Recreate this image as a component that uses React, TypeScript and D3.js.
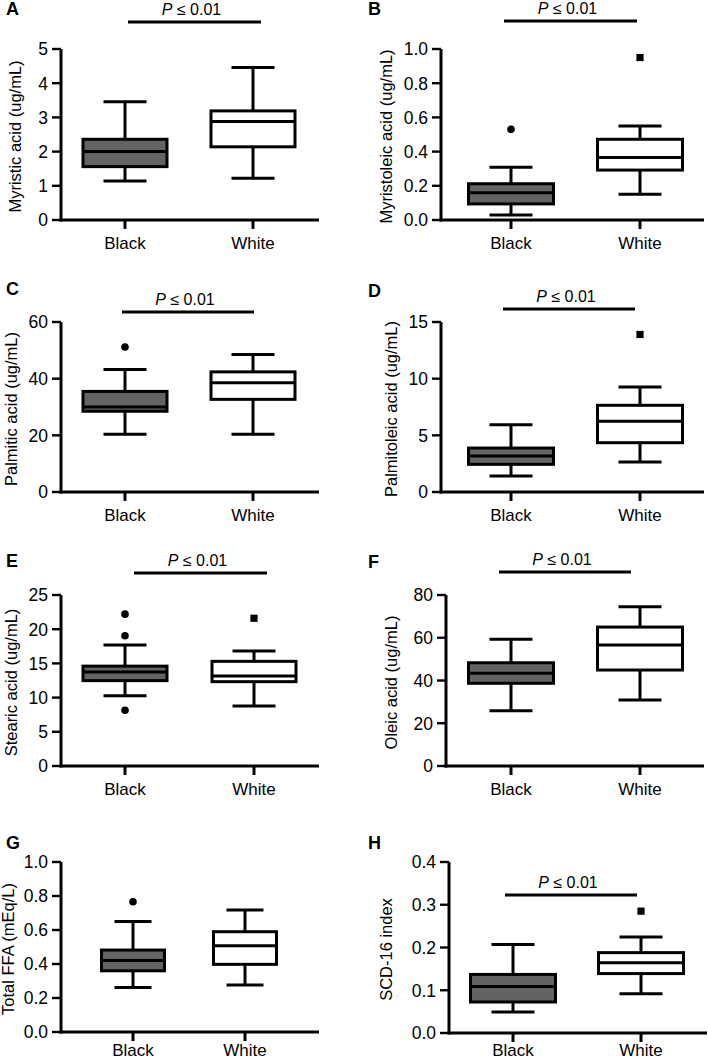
import React from "react";
import * as d3 from "d3";

// ---------- data (box stats: [whiskerLow, Q1, median, Q3, whiskerHigh]) ----------
const categories = ["Black", "White"];

const myristicBlack = [1.14, 1.56, 2.0, 2.36, 3.46];
const myristicWhite = [1.22, 2.14, 2.88, 3.19, 4.46];
const myristicOutBlack: number[] = [];
const myristicOutWhite: number[] = [];

const myristoleicBlack = [0.029, 0.094, 0.16, 0.212, 0.308];
const myristoleicWhite = [0.15, 0.292, 0.366, 0.472, 0.55];
const myristoleicOutBlack = [0.53];
const myristoleicOutWhite = [0.95];

const palmiticBlack = [20.4, 28.5, 30.0, 35.5, 43.2];
const palmiticWhite = [20.4, 32.7, 38.6, 42.4, 48.5];
const palmiticOutBlack = [51.2];
const palmiticOutWhite: number[] = [];

const palmitoleicBlack = [1.41, 2.44, 3.18, 3.88, 5.94];
const palmitoleicWhite = [2.65, 4.35, 6.24, 7.65, 9.26];
const palmitoleicOutBlack: number[] = [];
const palmitoleicOutWhite = [13.9];

const stearicBlack = [10.28, 12.48, 13.74, 14.6, 17.7];
const stearicWhite = [8.77, 12.33, 13.16, 15.3, 16.8];
const stearicOutBlack = [22.2, 19.05, 8.14];
const stearicOutWhite = [21.6];

const oleicBlack = [25.9, 38.7, 43.4, 48.3, 59.3];
const oleicWhite = [30.9, 44.9, 56.6, 65.0, 74.5];
const oleicOutBlack: number[] = [];
const oleicOutWhite: number[] = [];

const ffaBlack = [0.262, 0.36, 0.42, 0.482, 0.65];
const ffaWhite = [0.277, 0.398, 0.508, 0.59, 0.717];
const ffaOutBlack = [0.766];
const ffaOutWhite: number[] = [];

const scdBlack = [0.049, 0.0725, 0.109, 0.137, 0.207];
const scdWhite = [0.092, 0.139, 0.1645, 0.188, 0.2246];
const scdOutBlack: number[] = [];
const scdOutWhite = [0.285];

const ticksA = [0, 1, 2, 3, 4, 5];
const ticksB = [0, 0.2, 0.4, 0.6, 0.8, 1.0];
const ticksC = [0, 20, 40, 60];
const ticksD = [0, 5, 10, 15];
const ticksE = [0, 5, 10, 15, 20, 25];
const ticksF = [0, 20, 40, 60, 80];
const ticksG = [0, 0.2, 0.4, 0.6, 0.8, 1.0];
const ticksH = [0, 0.1, 0.2, 0.3, 0.4];

const sigLabel = "≤ 0.01";

// ---------- layout ----------
type Panel = {
  letter: string;
  title: string;
  black: number[];
  white: number[];
  outBlack: number[];
  outWhite: number[];
  ticks: number[];
  fmt: string;
  axisX: number;
  right: number;
  yTop: number;
  yBot: number;
  cats: [number, number];
  boxW: number;
  capW: number;
  letterX: number;
  letterY: number;
  titleX: number;
  catDy: number;
  sig: null | { x1: number; x2: number; y: number };
};

const FONT = "'Liberation Sans', Arial, Helvetica, sans-serif";

const panels: Panel[] = [
  {
    letter: "A", title: "Myristic acid (ug/mL)",
    black: myristicBlack, white: myristicWhite, outBlack: myristicOutBlack, outWhite: myristicOutWhite,
    ticks: ticksA, fmt: "d",
    axisX: 61, right: 319, yTop: 49, yBot: 220, cats: [125, 253], boxW: 84, capW: 43,
    letterX: 6, letterY: 15, titleX: 21, catDy: 29, sig: { x1: 128, x2: 261, y: 22 },
  },
  {
    letter: "B", title: "Myristoleic acid (ug/mL)",
    black: myristoleicBlack, white: myristoleicWhite, outBlack: myristoleicOutBlack, outWhite: myristoleicOutWhite,
    ticks: ticksB, fmt: ".1f",
    axisX: 441, right: 704, yTop: 49, yBot: 220, cats: [511, 640], boxW: 85, capW: 43,
    letterX: 368, letterY: 15, titleX: 392, catDy: 29, sig: { x1: 504, x2: 637, y: 21 },
  },
  {
    letter: "C", title: "Palmitic acid (ug/mL)",
    black: palmiticBlack, white: palmiticWhite, outBlack: palmiticOutBlack, outWhite: palmiticOutWhite,
    ticks: ticksC, fmt: "d",
    axisX: 61, right: 319, yTop: 322, yBot: 492, cats: [125, 253], boxW: 84, capW: 43,
    letterX: 6, letterY: 295, titleX: 17, catDy: 29, sig: { x1: 122, x2: 254, y: 312 },
  },
  {
    letter: "D", title: "Palmitoleic acid (ug/mL)",
    black: palmitoleicBlack, white: palmitoleicWhite, outBlack: palmitoleicOutBlack, outWhite: palmitoleicOutWhite,
    ticks: ticksD, fmt: "d",
    axisX: 441, right: 704, yTop: 322, yBot: 492, cats: [511, 640], boxW: 85, capW: 43,
    letterX: 368, letterY: 297, titleX: 397, catDy: 29, sig: { x1: 503, x2: 635, y: 309 },
  },
  {
    letter: "E", title: "Stearic acid (ug/mL)",
    black: stearicBlack, white: stearicWhite, outBlack: stearicOutBlack, outWhite: stearicOutWhite,
    ticks: ticksE, fmt: "d",
    axisX: 61, right: 319, yTop: 595, yBot: 766, cats: [125, 254], boxW: 84, capW: 43,
    letterX: 6, letterY: 567, titleX: 17, catDy: 29, sig: { x1: 134, x2: 267, y: 573 },
  },
  {
    letter: "F", title: "Oleic acid (ug/mL)",
    black: oleicBlack, white: oleicWhite, outBlack: oleicOutBlack, outWhite: oleicOutWhite,
    ticks: ticksF, fmt: "d",
    axisX: 446, right: 704, yTop: 595, yBot: 766, cats: [511, 640], boxW: 85, capW: 43,
    letterX: 368, letterY: 568, titleX: 397, catDy: 29, sig: { x1: 499, x2: 631, y: 572 },
  },
  {
    letter: "G", title: "Total FFA (mEq/L)",
    black: ffaBlack, white: ffaWhite, outBlack: ffaOutBlack, outWhite: ffaOutWhite,
    ticks: ticksG, fmt: ".1f",
    axisX: 61, right: 319, yTop: 862, yBot: 1032, cats: [133, 245], boxW: 63, capW: 37,
    letterX: 6, letterY: 849, titleX: 14, catDy: 24, sig: null,
  },
  {
    letter: "H", title: "SCD-16 index",
    black: scdBlack, white: scdWhite, outBlack: scdOutBlack, outWhite: scdOutWhite,
    ticks: ticksH, fmt: ".1f",
    axisX: 449, right: 707, yTop: 862, yBot: 1033, cats: [513, 641], boxW: 85, capW: 43,
    letterX: 368, letterY: 849, titleX: 392, catDy: 23, sig: { x1: 505, x2: 637, y: 895 },
  },
];

const SW = 3;
const GRAY = "#636363";

function BoxPlot({ p }: { p: Panel }) {
  const y = d3
    .scaleLinear()
    .domain([0, p.ticks[p.ticks.length - 1]])
    .range([p.yBot, p.yTop]);
  const x = d3.scalePoint<string>().domain(categories).range(p.cats);
  const fmt = d3.format(p.fmt);
  const tickLen = 9;
  const series = [
    { cat: "Black", s: p.black, out: p.outBlack, fill: GRAY, shape: "circle" },
    { cat: "White", s: p.white, out: p.outWhite, fill: "#ffffff", shape: "square" },
  ];
  const midY = (p.yTop + p.yBot) / 2 + 2;
  return (
    <g>
      <text x={p.letterX} y={p.letterY} fontFamily={FONT} fontWeight="bold" fontSize={18} fill="#000">
        {p.letter}
      </text>
      <text
        transform={`translate(${p.titleX},${midY}) rotate(-90)`}
        textAnchor="middle"
        fontFamily={FONT}
        fontSize={16.5}
        fill="#000"
      >
        {p.title}
      </text>
      {p.sig && (
        <g>
          <line x1={p.sig.x1} x2={p.sig.x2} y1={p.sig.y} y2={p.sig.y} stroke="#000" strokeWidth={SW} />
          <text
            x={(p.sig.x1 + p.sig.x2) / 2 - 3}
            y={p.sig.y - 7}
            textAnchor="middle"
            fontFamily={FONT}
            fontSize={16}
            fill="#000"
          >
            <tspan fontStyle="italic">P</tspan>
            <tspan> {sigLabel}</tspan>
          </text>
        </g>
      )}
      {series.map((d) => {
        const cx = x(d.cat)!;
        const [lo, q1, med, q3, hi] = d.s;
        return (
          <g key={d.cat}>
            <line x1={cx} x2={cx} y1={y(hi)} y2={y(q3)} stroke="#000" strokeWidth={SW} />
            <line x1={cx} x2={cx} y1={y(q1)} y2={y(lo)} stroke="#000" strokeWidth={SW} />
            <line x1={cx - p.capW / 2} x2={cx + p.capW / 2} y1={y(hi)} y2={y(hi)} stroke="#000" strokeWidth={SW} />
            <line x1={cx - p.capW / 2} x2={cx + p.capW / 2} y1={y(lo)} y2={y(lo)} stroke="#000" strokeWidth={SW} />
            <rect
              x={cx - p.boxW / 2}
              y={y(q3)}
              width={p.boxW}
              height={y(q1) - y(q3)}
              fill={d.fill}
              stroke="#000"
              strokeWidth={SW}
            />
            <line x1={cx - p.boxW / 2} x2={cx + p.boxW / 2} y1={y(med)} y2={y(med)} stroke="#000" strokeWidth={SW} />
            {d.out.map((v, i) =>
              d.shape === "circle" ? (
                <circle key={i} cx={cx} cy={y(v)} r={3.8} fill="#000" />
              ) : (
                <rect key={i} x={cx - 3.6} y={y(v) - 3.6} width={7.2} height={7.2} fill="#000" />
              )
            )}
          </g>
        );
      })}
      <line x1={p.axisX} x2={p.axisX} y1={p.yTop} y2={p.yBot + SW / 2} stroke="#000" strokeWidth={SW} />
      {p.ticks.map((t) => (
        <g key={t}>
          <line x1={p.axisX - tickLen} x2={p.axisX} y1={y(t)} y2={y(t)} stroke="#000" strokeWidth={SW * 0.8} />
          <text
            x={p.axisX - tickLen - 4}
            y={y(t)}
            dy="0.36em"
            textAnchor="end"
            fontFamily={FONT}
            fontSize={17.5}
            fill="#000"
          >
            {fmt(t)}
          </text>
        </g>
      ))}
      <line x1={p.axisX - SW / 2} x2={p.right} y1={p.yBot} y2={p.yBot} stroke="#000" strokeWidth={SW} />
      {categories.map((c) => (
        <g key={c}>
          <line x1={x(c)!} x2={x(c)!} y1={p.yBot} y2={p.yBot + tickLen} stroke="#000" strokeWidth={SW} />
          <text
            x={x(c)!}
            y={p.yBot + p.catDy}
            textAnchor="middle"
            fontFamily={FONT}
            fontSize={17}
            fill="#000"
          >
            {c}
          </text>
        </g>
      ))}
    </g>
  );
}

export default function App() {
  return (
    <svg
      width={708}
      height={1061}
      style={{ position: "absolute", left: 0, top: 0, background: "#fff" }}
    >
      <rect x={0} y={0} width={708} height={1061} fill="#fff" />
      {panels.map((p) => (
        <BoxPlot key={p.letter} p={p} />
      ))}
    </svg>
  );
}
